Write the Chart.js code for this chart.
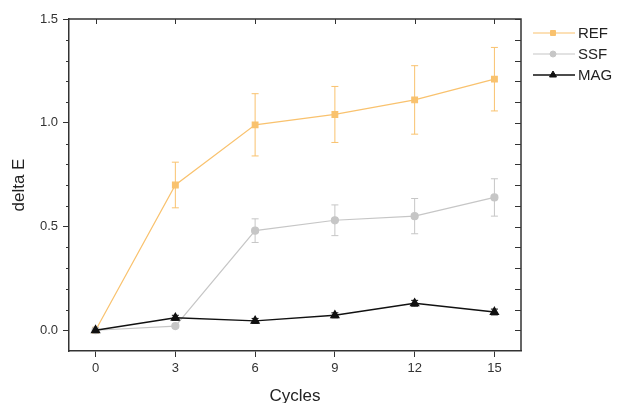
<!DOCTYPE html>
<html>
<head>
<meta charset="utf-8">
<script src="https://cdn.jsdelivr.net/npm/chart.js@4/dist/chart.umd.min.js"></script>
<style>
    html, body { margin: 0; padding: 0; background: #fff; }
    #wrap { width: 618px; height: 403px; }
</style>
</head>
<body>
<div id="wrap"><canvas id="lineChart"></canvas></div>
<script>
const cycles = [0, 3, 6, 9, 12, 15];
const seriesNames = ["REF", "SSF", "MAG"];
const refValues = [0, 0.70, 0.99, 1.04, 1.11, 1.21];
const refErrors = [0, 0.11, 0.15, 0.135, 0.165, 0.153];
const ssfValues = [0, 0.02, 0.48, 0.53, 0.55, 0.64];
const ssfErrors = [0, 0, 0.057, 0.074, 0.085, 0.09];
const magValues = [0, 0.06, 0.045, 0.072, 0.13, 0.088];
const magErrors = [0, 0.012, 0.012, 0.012, 0.014, 0.014];
const xTicks = [0, 3, 6, 9, 12, 15];
const yTicks = [0.0, 0.1, 0.2, 0.3, 0.4, 0.5, 0.6, 0.7, 0.8, 0.9, 1.0, 1.1, 1.2, 1.3, 1.4, 1.5];
const yLabels = [0.0, 0.5, 1.0, 1.5];

const axisColor = '#333';
const fontFamily = "Arial, 'Liberation Sans', sans-serif";

function points(values) {
    return cycles.map((c, i) => ({ x: c, y: values[i] }));
}

const errorBars = {
    id: 'errorBars',
    beforeDatasetsDraw(chart) {
        const ctx = chart.ctx;
        const xs = chart.scales.x, ys = chart.scales.y;
        chart.data.datasets.forEach(ds => {
            ctx.save();
            ctx.strokeStyle = ds.borderColor;
            ctx.lineWidth = 1;
            ds.errors.forEach((e, i) => {
                if (!e) return;
                const px = xs.getPixelForValue(cycles[i]);
                const top = ys.getPixelForValue(ds.data[i].y + e);
                const bot = ys.getPixelForValue(ds.data[i].y - e);
                ctx.beginPath();
                ctx.moveTo(px, top); ctx.lineTo(px, bot);
                ctx.moveTo(px - 3.5, top); ctx.lineTo(px + 3.5, top);
                ctx.moveTo(px - 3.5, bot); ctx.lineTo(px + 3.5, bot);
                ctx.stroke();
            });
            ctx.restore();
        });
    }
};

const frame = {
    id: 'frame',
    afterDraw(chart) {
        const ctx = chart.ctx;
        const a = chart.chartArea;
        const xs = chart.scales.x, ys = chart.scales.y;
        ctx.save();
        ctx.strokeStyle = axisColor;
        ctx.lineWidth = 1.5;
        ctx.beginPath();
        ctx.moveTo(a.left, a.top); ctx.lineTo(a.right, a.top); ctx.lineTo(a.right, a.bottom);
        ctx.stroke();
        ctx.lineWidth = 1;
        ctx.beginPath();
        xTicks.forEach(v => {
            const px = Math.round(xs.getPixelForValue(v)) + 0.5;
            ctx.moveTo(px, a.top); ctx.lineTo(px, a.top + 5);
        });
        yTicks.forEach(v => {
            const py = Math.round(ys.getPixelForValue(v)) + 0.5;
            ctx.moveTo(a.right, py); ctx.lineTo(a.right - 6, py);
            if (!yLabels.includes(v)) {
                ctx.moveTo(a.left, py); ctx.lineTo(a.left - 3, py);
            }
        });
        ctx.stroke();

        // legend
        chart.data.datasets.forEach((ds, i) => {
            const y = 33 + i * 21;
            const x0 = a.right + 12;
            ctx.strokeStyle = ds.borderColor;
            ctx.fillStyle = ds.borderColor;
            ctx.lineWidth = ds.borderWidth;
            ctx.beginPath();
            ctx.moveTo(x0, y); ctx.lineTo(x0 + 42, y);
            ctx.stroke();
            ctx.lineWidth = 1;
            Chart.helpers.drawPoint(ctx, {
                pointStyle: ds.pointStyle,
                radius: ds.pointRadius - 0.5,
                borderWidth: 1
            }, x0 + 20, y);
            ctx.fillStyle = '#222';
            ctx.font = '15px ' + fontFamily;
            ctx.textBaseline = 'middle';
            ctx.textAlign = 'left';
            ctx.fillText(ds.label, x0 + 45, y + 1);
        });
        ctx.restore();
    }
};

function series(name, values, errors, color, style, radius, width, order) {
    return {
        label: name,
        data: points(values),
        errors: errors,
        borderColor: color,
        backgroundColor: color,
        pointBackgroundColor: color,
        pointBorderColor: color,
        borderWidth: width,
        pointStyle: style,
        pointRadius: radius,
        pointHoverRadius: radius,
        tension: 0,
        fill: false,
        order: order
    };
}

const ctx = document.getElementById("lineChart").getContext("2d");
const chart = new Chart(ctx, {
    type: 'line',
    data: {
        datasets: [
            series(seriesNames[0], refValues, refErrors, '#F9C26E', 'rect', 4, 1.2, 3),
            series(seriesNames[1], ssfValues, ssfErrors, '#C6C6C6', 'circle', 3.5, 1.2, 2),
            series(seriesNames[2], magValues, magErrors, '#111111', 'triangle', 4.5, 1.4, 1)
        ]
    },
    options: {
        responsive: true,
        maintainAspectRatio: false,
        animation: false,
        layout: { padding: { left: 0, top: 19, right: 97, bottom: 0 } },
        plugins: { legend: { display: false }, tooltip: { enabled: false } },
        scales: {
            x: {
                type: 'linear',
                min: -1,
                max: 16,
                afterBuildTicks: s => { s.ticks = xTicks.map(v => ({ value: v })); },
                afterFit: s => { s.height = 52; },
                ticks: { color: axisColor, font: { size: 13, family: fontFamily }, padding: 4, autoSkip: false, maxRotation: 0 },
                grid: { drawOnChartArea: false, drawTicks: true, tickLength: 6, color: axisColor },
                border: { display: true, color: axisColor, width: 1.5 },
                title: { display: true, text: 'Cycles', color: '#222', font: { size: 17, family: fontFamily, lineHeight: 1 }, padding: { top: 0, bottom: -2 } }
            },
            y: {
                type: 'linear',
                min: -0.1,
                max: 1.5,
                afterBuildTicks: s => { s.ticks = yLabels.map(v => ({ value: v })); },
                afterFit: s => { s.width = 69; },
                ticks: {
                    color: axisColor,
                    font: { size: 13, family: fontFamily },
                    padding: 5,
                    autoSkip: false,
                    callback: v => v.toFixed(1)
                },
                grid: { drawOnChartArea: false, drawTicks: true, tickLength: 6, color: axisColor },
                border: { display: true, color: axisColor, width: 1.5 },
                title: { display: true, text: 'delta E', color: '#222', font: { size: 17, family: fontFamily, lineHeight: 1 }, padding: { top: 11, bottom: 0 } }
            }
        }
    },
    plugins: [errorBars, frame]
});
</script>
</body>
</html>
